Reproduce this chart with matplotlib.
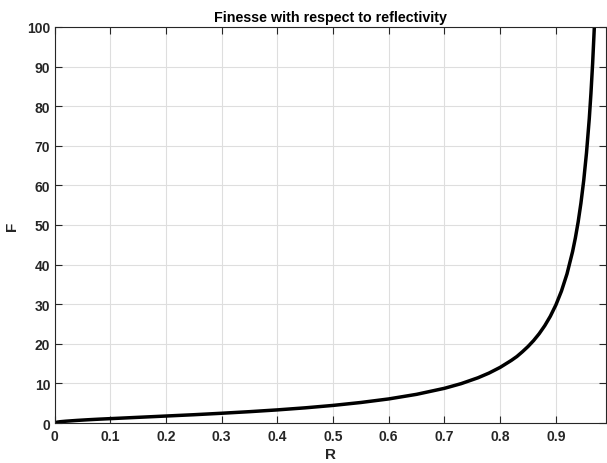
import matplotlib.pyplot as plt

# reflectivity R and finesse F
reflectivity = [0.0, 0.005, 0.01, 0.02, 0.04, 0.06, 0.08, 0.1, 0.15, 0.2, 0.25, 0.3,
                0.35, 0.4, 0.45, 0.5, 0.55, 0.6, 0.65, 0.7, 0.73, 0.76, 0.78, 0.8,
                0.82, 0.83, 0.84, 0.85, 0.86, 0.87, 0.88, 0.89, 0.9, 0.91, 0.92, 0.93,
                0.935, 0.94, 0.945, 0.95, 0.955, 0.96, 0.963, 0.966, 0.969, 0.972, 0.975]
finesse = [0.0, 0.22, 0.32, 0.45, 0.65, 0.82, 0.97, 1.10, 1.43, 1.76, 2.09, 2.46,
           2.86, 3.31, 3.83, 4.44, 5.18, 6.08, 7.24, 8.76, 9.94, 11.41, 12.61, 14.05,
           15.80, 16.79, 18.00, 19.31, 20.81, 22.54, 24.56, 26.94, 29.80, 33.30, 37.66,
           43.28, 46.73, 50.76, 55.53, 61.24, 68.23, 76.89, 83.30, 90.80, 99.80, 110.6,
           123.0]

xticks = [0, 0.1, 0.2, 0.3, 0.4, 0.5, 0.6, 0.7, 0.8, 0.9]
yticks = list(range(0, 101, 10))

plt.rcParams['font.family'] = ['Liberation Sans', 'DejaVu Sans']
plt.rcParams['font.weight'] = 'bold'

axcol = '#262626'
fig = plt.figure(figsize=(6.07, 4.64), dpi=100)
ax = fig.add_axes([54.5 / 607, 1 - 424 / 464, (606 - 54.5) / 607, (424 - 28) / 464])

ax.plot(reflectivity, finesse, color='black', linewidth=2.5)
ax.set_xlim(0, 0.99)
ax.set_ylim(0, 100)
ax.set_xticks(xticks)
ax.set_xticklabels([f'{t:g}' for t in xticks])
ax.set_yticks(yticks)
ax.grid(True, color='#dedede', linewidth=0.8)
ax.set_axisbelow(True)
ax.tick_params(direction='in', length=5, width=0.8, colors=axcol, top=True, right=True,
               labelsize=10, pad=4)
ax.tick_params(axis='y', pad=3)
for s in ax.spines.values():
    s.set_color(axcol)
    s.set_linewidth(0.8)

ax.set_title('Finesse with respect to reflectivity', fontsize=10.3, fontweight='bold',
             color='black', pad=4)
ax.set_xlabel('R', fontsize=11, fontweight='bold', color=axcol, labelpad=3)
ax.set_ylabel('F', fontsize=11, fontweight='bold', color=axcol, labelpad=6)

fig.savefig('out.png', dpi=100)
